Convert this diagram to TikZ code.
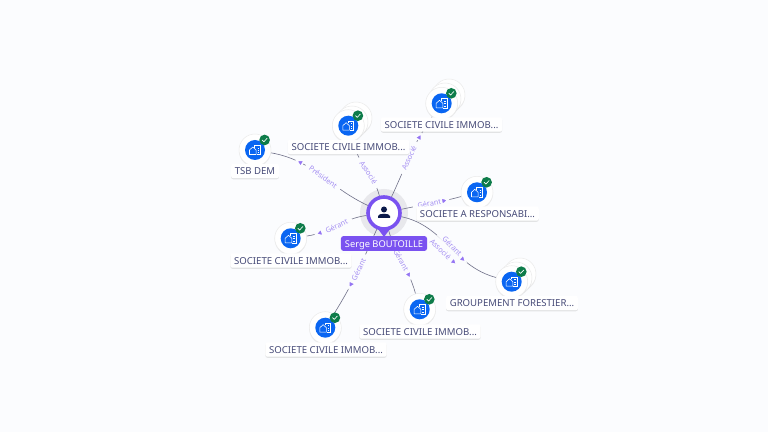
\documentclass[tikz,border=0pt]{standalone}
\usepackage{fontspec}
\setmainfont{Noto Sans}
\usetikzlibrary{calc,shadows,shapes.geometric}
\definecolor{bgc}{HTML}{FBFCFE}
\definecolor{pinc}{HTML}{7A52F0}
\definecolor{halo}{HTML}{E8E8EC}
\definecolor{bluec}{HTML}{0A66F2}
\definecolor{greenc}{HTML}{0E7C4A}
\definecolor{navy}{HTML}{0B1A4A}
\definecolor{txtc}{HTML}{474B78}
\definecolor{edgec}{HTML}{6F7088}
\definecolor{elab}{HTML}{A48EF2}
\pgfdeclarelayer{under}
\pgfdeclarelayer{edges}
\pgfsetlayers{under,edges,main}
\tikzset{
  x=0.75pt,y=0.75pt,
  disc/.style={circle,fill=white,draw=black!8,line width=0.4pt,minimum size=24pt,inner sep=0pt,drop shadow={opacity=.14,shadow xshift=0pt,shadow yshift=-0.8pt}},
  bluedisc/.style={circle,fill=bluec,minimum size=15pt,inner sep=0pt},
  badge/.style={circle,fill=greenc,minimum size=8pt,inner sep=0pt},
  tag/.style={fill=white,rounded corners=1.6pt,inner xsep=2.8pt,inner ysep=0pt,text height=5.4pt,text depth=0pt,minimum height=10.8pt,text=txtc,font=\fontsize{7.2pt}{8pt}\selectfont,drop shadow={opacity=.2,shadow xshift=0pt,shadow yshift=-0.8pt}},
  link/.style={draw=edgec,line width=0.45pt},
  elabel/.style={sloped,fill=bgc,text=elab,inner xsep=3.5pt,inner ysep=0.3pt,font=\fontsize{5.5pt}{6pt}\selectfont},
  tip/.style={sloped,allow upside down,isosceles triangle,isosceles triangle apex angle=60,fill=pinc!80,draw=bgc,line width=1.2pt,inner sep=0pt,minimum size=5pt},
}
\newcommand\company[3]{%
  \node[bluedisc] (#1b) at (#2,#3) {};
  \node[badge] (#1g) at ($(#1b)+(9.6,10)$) {};
  \draw[white,line width=0.42pt,line join=round] ($(#1b)+(-5.5,-4.5)$) -- ++(0,4.5) -- ++(3.3,3) -- ++(3.3,-3) -- ++(0,-4.5) -- cycle;
  \draw[white,line width=0.42pt] ($(#1b)+(-0.5,2.2)$) -- ++(0,2.4) -- ++(5.8,0) -- ++(0,-9.1) -- ++(-3.8,0);
  \draw[white,line width=0.42pt] ($(#1b)+(2.6,2)$) -- ++(1.3,0) ($(#1b)+(2.6,-0.3)$) -- ++(1.3,0) ($(#1b)+(2.6,-2.6)$) -- ++(1.3,0);
  \draw[white,line width=0.5pt,line cap=round,line join=round] ($(#1g)+(-2.4,0)$) -- ++(1.7,-1.7) -- ++(3.2,3.4);
}
\begin{document}
\begin{tikzpicture}
\useasboundingbox (0,0) rectangle (768,432);
\begin{pgfonlayer}{under}
  \fill[bgc] (0,0) rectangle (768,432);
  \fill[halo] (384,219) circle[radius=24];
\end{pgfonlayer}

% stacked discs
\node[disc] (tl2) at (356,314) {};
\node[disc] (tl3) at (352,310) {};
\node[disc] (top2) at (449,337) {};
\node[disc] (top3) at (445,333) {};
\node[disc] (gf2) at (520,158) {};
\node[disc] (gf3) at (516,154) {};
% main discs
\node[disc] (tsb) at (255,282) {};
\node[disc] (tl) at (348.3,306.3) {};
\node[disc] (top) at (441.7,328.7) {};
\node[disc] (sarl) at (477,239.7) {};
\node[disc] (gf) at (511.7,150.3) {};
\node[disc] (br) at (419.7,122.7) {};
\node[disc] (left) at (290.7,193.7) {};
\node[disc] (bot) at (325.3,104.3) {};

\company{tsbi}{255}{282}
\company{tli}{348.3}{306.3}
\company{topi}{441.7}{328.7}
\company{sarli}{477}{239.7}
\company{gfi}{511.7}{150.3}
\company{bri}{419.7}{122.7}
\company{lefti}{290.7}{193.7}
\company{boti}{325.3}{104.3}

% labels
\node[tag] (ltsb) at (255,261) {TSB DEM};
\node[tag] (ltl) at (348.5,285) {SOCIETE CIVILE IMMOB...};
\node[tag] (ltop) at (441.5,307.5) {SOCIETE CIVILE IMMOB...};
\node[tag] (lsarl) at (477.5,218.5) {SOCIETE A RESPONSABI...};
\node[tag] (lgf) at (512,129) {GROUPEMENT FORESTIER...};
\node[tag] (lbr) at (420,100.5) {SOCIETE CIVILE IMMOB...};
\node[tag] (lleft) at (291,171.5) {SOCIETE CIVILE IMMOB...};
\node[tag] (lbot) at (326,82.5) {SOCIETE CIVILE IMMOB...};

% centre pin
\fill[pinc] (370.5,213) -- (384,195) -- (397.5,213) -- cycle;
\node[circle,fill=white,draw=pinc,line width=2.7pt,minimum size=24pt,inner sep=0pt] (c) at (384,219) {};
\fill[navy] (384,222.5) circle[radius=3];
\fill[navy] (378,214) -- (390,214) -- (390,216) .. controls (390,219) and (378,219) .. (378,216) -- cycle;
\node[fill=pinc,rounded corners=2pt,text=white,inner xsep=3pt,inner ysep=0pt,text height=5.4pt,text depth=0pt,minimum height=11.2pt,font=\fontsize{7pt}{8pt}\selectfont] (serge) at (384,188.5) {Serge BOUTOILLE};

\begin{pgfonlayer}{edges}
\path[link] (c) to[out=155,in=-10]
   node[elabel,pos=.47] {Président} node[tip,pos=.73] {} (tsb);
\path[link] (c) to[out=105,in=-75]
   node[elabel,pos=.42] {Associé} (tl);
\path[link] (c) to[out=65,in=-125]
   node[elabel,pos=.47] {Associé} node[tip,pos=.74] {} (top);
\path[link] (c) to[out=12,in=195]
   node[elabel,pos=.46] {Gérant} node[tip,pos=.72] {} (sarl);
\path[link] (c) to[out=-12,in=165]
   node[elabel,pos=.52,yshift=2pt,inner xsep=5pt] {Gérant} node[elabel,pos=.5,yshift=-6pt,xshift=-3pt,fill=none,inner xsep=0.5pt] {Associé} node[tip,pos=.67] {} node[tip,pos=.66,xshift=-3pt,yshift=-6pt] {} (gf);
\path[link] (c) to[out=-75,in=105]
   node[elabel,pos=.47] {Gérant} node[tip,pos=.72] {} (br);
\path[link] (c) to[out=-114,in=58]
   node[elabel,pos=.46] {Gérant} node[tip,pos=.65] {} (bot);
\path[link] (c) to[out=188,in=8]
   node[elabel,pos=.5] {Gérant} node[tip,pos=.8] {} (left);
\end{pgfonlayer}
\end{tikzpicture}
\end{document}
